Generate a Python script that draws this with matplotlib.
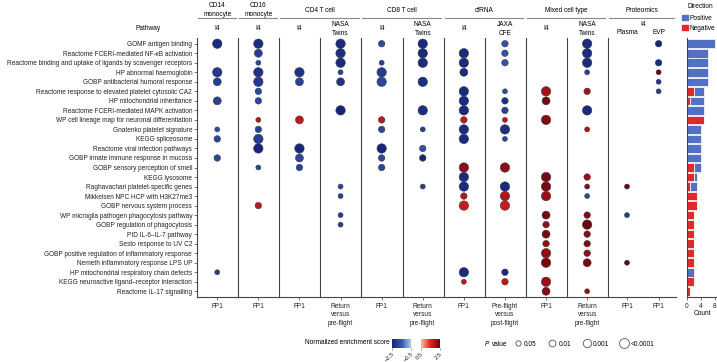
import matplotlib
matplotlib.use("Agg")
import matplotlib.pyplot as plt
import numpy as np
from matplotlib.colors import LinearSegmentedColormap, Normalize
from matplotlib.cm import ScalarMappable
from matplotlib.lines import Line2D
from matplotlib.patches import Patch

plt.rcParams["font.family"] = ["Liberation Sans", "DejaVu Sans"]
plt.rcParams["font.size"] = 4.7

pathways = [
    "GOMF antigen binding",
    "Reactome FCERI-mediated NF-κB activation",
    "Reactome binding and uptake of ligands by scavenger receptors",
    "HP abnormal haemoglobin",
    "GOBP antibacterial humoral response",
    "Reactome response to elevated platelet cytosolic CA2",
    "HP mitochondrial inheritance",
    "Reactome FCERI-mediated MAPK activation",
    "WP cell lineage map for neuronal differentiation",
    "Gnatenko platelet signature",
    "KEGG spliceosome",
    "Reactome viral infection pathways",
    "GOBP innate immune response in mucosa",
    "GOBP sensory perception of smell",
    "KEGG lysosome",
    "Raghavachari platelet-specific genes",
    "Mikkelsen NPC HCP with H3K27me3",
    "GOBP nervous system process",
    "WP microglia pathogen phagocytosis pathway",
    "GOBP regulation of phagocytosis",
    "PID IL-6–IL-7 pathway",
    "Sesto response to UV C2",
    "GOBP positive regulation of inflammatory response",
    "Nemeth inflammatory response LPS UP",
    "HP mitochondrial respiratory chain defects",
    "KEGG neuroactive ligand–receptor interaction",
    "Reactome IL-17 signalling",
]

# (pathway row, normalized enrichment score, P level 1:0.05 2:0.01 3:0.001 4:<0.0001)
cd14_i4 = [(0, -2.4, 4), (3, -2.1, 4), (4, -2.0, 3), (6, -1.9, 3), (9, -1.7, 1),
           (10, -1.8, 2), (12, -1.8, 2), (24, -2.0, 1)]
cd16_i4 = [(0, -2.3, 4), (1, -2.0, 3), (2, -1.8, 1), (3, -2.2, 4), (4, -2.1, 4),
           (5, -1.8, 2), (6, -1.8, 2), (8, 1.8, 1), (9, -1.9, 2), (10, -2.0, 4),
           (11, -2.5, 4), (13, -1.8, 1), (17, 1.8, 2)]
cd4_i4 = [(3, -2.2, 4), (4, -1.9, 3), (8, 1.8, 3), (11, -2.5, 4), (12, -1.8, 3),
          (13, -1.9, 2)]
cd4_nasa = [(0, -2.4, 4), (1, -2.3, 4), (2, -2.4, 4), (3, -1.9, 1), (4, -2.2, 3),
            (7, -2.5, 4), (15, -1.9, 1), (16, -1.9, 1), (18, -2.0, 1), (19, -2.0, 1)]
cd8_i4 = [(0, -1.7, 2), (2, -1.9, 1), (3, -2.0, 4), (4, -1.8, 4), (8, 1.8, 2),
          (9, -1.8, 2), (11, -2.5, 4), (12, -1.8, 2), (13, -1.8, 2)]
cd8_nasa = [(0, -2.4, 4), (1, -2.4, 4), (2, -2.4, 4), (4, -2.3, 4), (7, -2.3, 4),
            (9, -2.0, 1), (11, -1.6, 2), (12, -2.5, 2), (15, -2.0, 1)]
cf_i4 = [(1, -2.4, 4), (2, -2.4, 4), (3, -2.4, 3), (5, -2.4, 4), (6, -2.4, 4),
         (7, -2.4, 4), (8, 1.8, 2), (9, -2.4, 4), (10, -2.4, 4), (13, 2.2, 4),
         (14, -2.4, 4), (15, -2.4, 4), (16, 1.9, 2), (17, 1.7, 4), (24, -2.4, 4),
         (25, 1.8, 1)]
cf_jaxa = [(0, -1.6, 2), (1, -1.6, 2), (2, -1.6, 2), (5, -1.7, 1), (6, -2.3, 2),
           (7, -1.9, 2), (8, 1.8, 1), (9, -2.3, 4), (10, -1.8, 1), (13, 2.2, 4),
           (15, -2.4, 4), (16, 1.9, 4), (17, 1.7, 4), (24, -2.4, 2), (25, 1.8, 2)]
mix_i4 = [(5, 2.0, 4), (6, 2.4, 3), (8, 2.3, 4), (14, 2.4, 4), (15, 2.4, 4),
          (16, 2.1, 4), (18, 2.4, 3), (19, 2.2, 2), (20, 2.4, 3), (21, 2.2, 2),
          (22, 2.2, 4), (23, 2.4, 4), (25, 2.1, 4), (26, 2.3, 3)]
mix_nasa = [(0, -2.4, 4), (1, -2.4, 4), (2, -2.4, 4), (3, -1.9, 1), (5, 2.0, 2),
            (7, -2.4, 4), (9, 2.0, 1), (14, 2.1, 2), (15, 2.3, 1), (16, -1.7, 1),
            (18, 2.3, 2), (19, 2.5, 4), (20, 2.3, 2), (21, 2.3, 2), (22, 2.2, 2),
            (23, 2.4, 3), (26, 2.1, 1)]
prot_plasma = [(15, 2.8, 1), (18, -2.0, 1), (23, 2.8, 1)]
prot_evp = [(0, -2.5, 2), (2, -2.4, 2), (3, 2.5, 1), (4, -2.1, 1), (5, -1.9, 1)]

single_columns = [cd14_i4, cd16_i4, cd4_i4, cd4_nasa, cd8_i4, cd8_nasa,
                  cf_i4, cf_jaxa, mix_i4, mix_nasa]
sub_labels = ["I4", "I4", "I4", "NASA\nTwins", "I4", "NASA\nTwins",
              "I4", "JAXA\nCFE", "I4", "NASA\nTwins"]
bottom_labels = ["FP1", "FP1", "FP1", "Return\nversus\npre-flight", "FP1",
                 "Return\nversus\npre-flight", "FP1", "Pre-flight\nversus\npost-flight",
                 "FP1", "Return\nversus\npre-flight"]
group_titles = ["CD14\nmonocyte", "CD16\nmonocyte", "CD4 T cell", "CD8 T cell",
                "cfRNA", "Mixed cell type", "Proteomics"]
group_panels = [(0, 0), (1, 1), (2, 3), (4, 5), (6, 7), (8, 9), (10, 10)]

# Direction counts per pathway
neg_count = [0, 0, 0, 0, 0, 2, 1, 0, 5, 0, 0, 0, 0, 2, 2, 1, 3, 3,
             2, 2, 2, 2, 2, 2, 0, 2, 1]
pos_count = [8, 6, 6, 6, 6, 3, 4, 5, 0, 4, 4, 4, 4, 2, 1, 2, 0, 0,
             0, 0, 0, 0, 0, 0, 2, 0, 0]

p_labels = ["0.05", "0.01", "0.001", "<0.0001"]
p_sizes = {1: 13, 2: 22, 3: 33, 4: 46}

cmap = LinearSegmentedColormap.from_list("nes", [
    (0.0, "#16257a"), (0.2, "#3556ad"), (0.4, "#a9d3f3"), (0.4, "white"),
    (0.6, "white"), (0.6, "#fdc98f"), (0.8, "#e3211f"), (1.0, "#6a0610")])
norm = Normalize(-2.5, 2.5)
blue, red = "#5271c2", "#df2a2c"
spine_col = "#444444"

W, H = 717, 362
fig = plt.figure(figsize=(W / 100, H / 100), dpi=100)


def fx(px):
    return px / W


def fy(py):
    return 1 - py / H


ax_b = fy(297)
ax_h = (297 - 38) / H


def style_panel(ax, left_spine=True):
    for side in ["top", "right"]:
        ax.spines[side].set_visible(False)
    ax.spines["left"].set_visible(left_spine)
    for side in ["left", "bottom"]:
        ax.spines[side].set_color(spine_col)
        ax.spines[side].set_linewidth(0.8)
    ax.set_ylim(26.6, -0.6)
    ax.tick_params(axis="x", length=2, width=0.5, pad=2, colors=spine_col, labelcolor="#222222")
    ax.set_facecolor("none")


def draw_dots(ax, x, data):
    rows, nes, plev = zip(*data)
    ax.scatter(np.full(len(rows), x), rows, s=[p_sizes[k] for k in plev], c=nes,
               cmap=cmap, norm=norm, edgecolors="#333333", linewidths=0.35, zorder=3,
               clip_on=False)


axes = []
for i, data in enumerate(single_columns):
    left = 197 + 41.1 * i
    ax = fig.add_axes([fx(left), ax_b, fx(40.5), ax_h])
    draw_dots(ax, 0, data)
    ax.set_xlim(-1, 1)
    style_panel(ax)
    ax.set_xticks([0])
    ax.set_xticklabels([bottom_labels[i]], linespacing=1.3)
    if i == 0:
        ax.set_yticks(range(len(pathways)))
        ax.set_yticklabels(pathways)
        ax.tick_params(axis="y", length=2, width=0.5, pad=1.5, colors=spine_col,
                       labelcolor="#222222")
    else:
        ax.set_yticks([])
    axes.append(ax)

# Proteomics panel (plasma and EVP)
axp = fig.add_axes([fx(608), ax_b, fx(68), ax_h])
draw_dots(axp, 0, prot_plasma)
draw_dots(axp, 1, prot_evp)
axp.set_xlim(-0.6, 1.55)
style_panel(axp)
axp.set_xticks([0, 1])
axp.set_xticklabels(["FP1", "FP1"])
axp.set_yticks([])
axes.append(axp)

# Direction bars
axd = fig.add_axes([fx(687), ax_b, fx(30), ax_h])
yy = np.arange(len(pathways))
axd.barh(yy, neg_count, height=0.9, color=red, edgecolor="white", linewidth=0.5)
axd.barh(yy, pos_count, left=neg_count, height=0.9, color=blue, edgecolor="white",
         linewidth=0.5)
style_panel(axd)
axd.set_xlim(0, 8.6)
axd.set_xticks([0, 4, 8])
axd.set_yticks([])
axd.set_xlabel("Count", labelpad=0.5)

# Headers
for ax, lab in zip(axes[:10], sub_labels):
    pos = ax.get_position()
    fig.text(pos.x0 + pos.width / 2, fy(29), lab, ha="center", va="center", linespacing=1.25)
fig.text(fx(643), fy(24), "I4", ha="center", va="center")
fig.text(fx(627), fy(33), "Plasma", ha="center", va="center")
fig.text(fx(659), fy(33), "EVP", ha="center", va="center")
fig.text(fx(148), fy(29), "Pathway", ha="center", va="center")

for title, (a, b) in zip(group_titles, group_panels):
    x0 = axes[a].get_position().x0
    x1 = axes[b].get_position().x1
    fig.text((x0 + x1) / 2, fy(10), title, ha="center", va="center", linespacing=1.25)
    fig.add_artist(Line2D([x0 + fx(1), x1 - fx(2)], [fy(18), fy(18)],
                          transform=fig.transFigure, color="#8a8a8a", lw=0.8))

fig.text(fx(700), fy(7), "Direction", ha="center", va="center")
fig.legend([Patch(color=blue), Patch(color=red)], ["Positive", "Negative"],
           loc="upper left", bbox_to_anchor=(fx(682), fy(15)),
           frameon=False, fontsize=4.7, handlelength=0.9,
           handleheight=0.9, handletextpad=0.3, labelspacing=0.45, borderpad=0,
           borderaxespad=0)

# Colour bar
cax = fig.add_axes([fx(392), fy(348), fx(48), 9 / H])
cb = fig.colorbar(ScalarMappable(norm=norm, cmap=cmap), cax=cax, orientation="horizontal",
                  ticks=[-2.5, -0.5, 0.5, 2.5])
cb.outline.set_visible(False)
cb.ax.set_xticklabels(["−2.5", "−0.5", "0.5", "2.5"], rotation=45, ha="right",
                      rotation_mode="anchor", fontsize=4.2)
cb.ax.tick_params(length=1.2, width=0.4, pad=1.0, colors="#555555", labelcolor="#222222")
fig.text(fx(390), fy(343), "Normalized enrichment score", ha="right", va="center")

# P value legend
fig.text(fx(485), fy(344), "P", style="italic", ha="left", va="center")
fig.text(fx(491.5), fy(344), "value", ha="left", va="center")
p_handles = [Line2D([], [], marker="o", ls="", markerfacecolor="white",
                    markeredgecolor="#555555", markeredgewidth=0.6,
                    markersize=np.sqrt(p_sizes[k]) * 1.05) for k in [1, 2, 3, 4]]
fig.legend(p_handles, p_labels, ncol=4, loc="center left",
           bbox_to_anchor=(fx(515), fy(344)), frameon=False, fontsize=4.7,
           handlelength=1.0, handletextpad=0.4, columnspacing=1.9, borderpad=0,
           borderaxespad=0)

fig.savefig("out.png", dpi=100)
